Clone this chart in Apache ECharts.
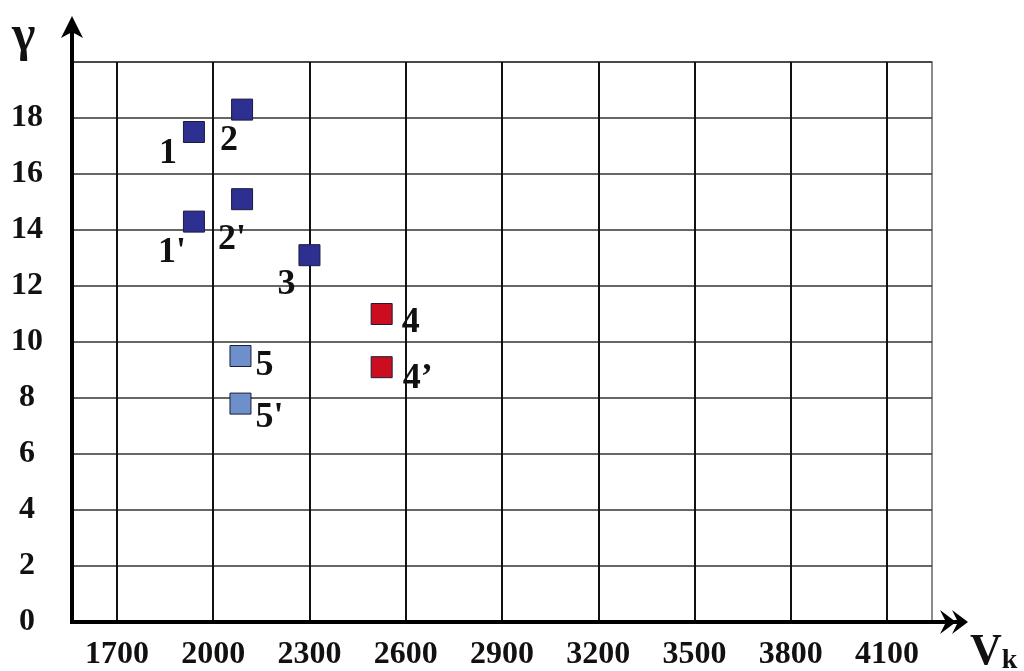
<!DOCTYPE html>
<html>
<head>
<meta charset="utf-8">
<script src="https://cdn.jsdelivr.net/npm/echarts@6/dist/echarts.min.js"></script>
<style>
html, body { margin: 0; background: #fff; }
#chart { width: 1024px; height: 671px; }
</style>
</head>
<body>
<div id="chart"></div>
<script>
var xTicks = [1700, 2000, 2300, 2600, 2900, 3200, 3500, 3800, 4100];
var yTicks = [0, 2, 4, 6, 8, 10, 12, 14, 16, 18];

var darkNames = ["1", "2", "1'", "2'", "3"];
var darkX = [1940, 2090, 1940, 2090, 2300];
var darkY = [17.5, 18.3, 14.3, 15.1, 13.1];

var redNames = ["4", "4\u2019"];
var redX = [2525, 2525];
var redY = [11.0, 9.1];

var lightNames = ["5", "5'"];
var lightX = [2085, 2085];
var lightY = [9.5, 7.8];

// label offsets (px) relative to each square
var darkOffsets = [[-26, 22], [-13, 31], [-22, 31], [-10, 41], [-23, 30]];
var redOffsets = [[29, 9], [36, 12]];
var lightOffsets = [[24, 10], [29, 14]];

var serif = "'Liberation Serif', 'DejaVu Serif', serif";

function build(names, xs, ys, offs) {
  return names.map(function (n, i) {
    return {
      name: n,
      value: [xs[i], ys[i]],
      label: { offset: offs[i] }
    };
  });
}

function pointSeries(name, data, color) {
  return {
    name: name,
    type: 'scatter',
    symbol: 'rect',
    symbolSize: 21,
    itemStyle: { color: color, borderColor: '#1c1c3c', borderWidth: 1, opacity: 1 },
    label: {
      show: true,
      position: 'inside',
      formatter: '{b}',
      color: '#111',
      fontFamily: serif,
      fontWeight: 'bold',
      fontSize: 36,
      align: 'center',
      verticalAlign: 'middle'
    },
    emphasis: { disabled: true },
    data: data
  };
}

var chart = echarts.init(document.getElementById('chart'));

var option = {
  backgroundColor: '#fff',
  animation: false,
  grid: {
    left: 72, right: 92, top: 62, bottom: 46,
    show: true, borderColor: '#666', borderWidth: 1.5
  },
  xAxis: {
    type: 'value',
    min: 1560,
    max: 4240,
    axisLine: { show: false },
    axisTick: { show: false, customValues: xTicks },
    splitLine: { show: true, lineStyle: { color: '#111', width: 2 } },
    axisLabel: {
      customValues: xTicks,
      color: '#111',
      fontFamily: serif,
      fontWeight: 'bold',
      fontSize: 32,
      margin: 33,
      verticalAlign: 'middle',
      formatter: function (v) { return String(v); }
    }
  },
  yAxis: {
    type: 'value',
    min: 0,
    max: 20,
    interval: 2,
    axisLine: { show: false },
    axisTick: { show: false },
    splitLine: { show: true, lineStyle: { color: '#333', width: 1.5 } },
    axisLabel: {
      color: '#111',
      fontFamily: serif,
      fontWeight: 'bold',
      fontSize: 32,
      margin: 45,
      align: 'center',
      formatter: function (v) { return v > 18 ? '' : String(v); }
    }
  },
  series: [
    pointSeries('dark', build(darkNames, darkX, darkY, darkOffsets), '#2d2f91'),
    pointSeries('red', build(redNames, redX, redY, redOffsets), '#cc0c1f'),
    pointSeries('light', build(lightNames, lightX, lightY, lightOffsets), '#6d8fca')
  ]
};

chart.setOption(option);

// axes with arrows, drawn from the grid corners
var o = chart.convertToPixel({ gridIndex: 0 }, [1560, 0]);
var tr = chart.convertToPixel({ gridIndex: 0 }, [4240, 20]);
var ox = o[0], oy = o[1];
var yTip = tr[1] - 46;
var xEnd = tr[0] + 36;

chart.setOption({
  graphic: [
    { type: 'line', shape: { x1: ox, y1: oy + 1, x2: ox, y2: yTip + 10 }, style: { stroke: '#000', lineWidth: 4 }, z: 100 },
    { type: 'polygon', shape: { points: [[ox, yTip], [ox - 11, yTip + 22], [ox, yTip + 16], [ox + 11, yTip + 22]] }, style: { fill: '#000' }, z: 100 },
    { type: 'line', shape: { x1: ox - 2, y1: oy, x2: xEnd - 4, y2: oy }, style: { stroke: '#000', lineWidth: 4 }, z: 100 },
    { type: 'polygon', shape: { points: [[xEnd - 28, oy - 12], [xEnd - 12, oy], [xEnd - 28, oy + 12], [xEnd - 22, oy]] }, style: { fill: '#000' }, z: 100 },
    { type: 'polygon', shape: { points: [[xEnd - 16, oy - 12], [xEnd, oy], [xEnd - 16, oy + 12], [xEnd - 10, oy]] }, style: { fill: '#000' }, z: 100 },
    { type: 'text', left: 12, top: 12, style: { text: '\u03b3', fontFamily: serif, fontWeight: 'bold', fontSize: 50, fill: '#111' }, z: 100 },
    {
      type: 'text', left: 970, top: 631,
      style: {
        text: '{v|V}{k|k}',
        rich: {
          v: { fontFamily: serif, fontWeight: 'bold', fontSize: 44, fill: '#111', verticalAlign: 'bottom' },
          k: { fontFamily: serif, fontWeight: 'bold', fontSize: 28, fill: '#111', verticalAlign: 'bottom' }
        }
      },
      z: 100
    }
  ]
});
</script>
</body>
</html>
